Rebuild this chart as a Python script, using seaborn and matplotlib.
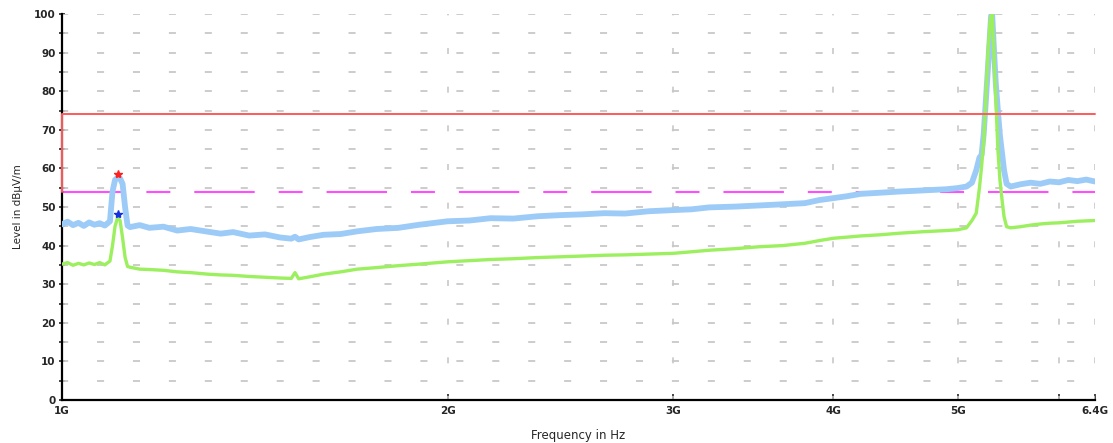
import pandas as pd
import numpy as np
import matplotlib
matplotlib.use('Agg')
import matplotlib.pyplot as plt
import seaborn as sns
from matplotlib.ticker import FixedLocator, FixedFormatter, MultipleLocator, NullLocator

# Frequencies (GHz) of the read-off points, shared by both traces
freq_ghz = [1.00, 1.01, 1.02, 1.03, 1.04, 1.05, 1.06, 1.07, 1.08, 1.09,
            1.095, 1.100, 1.105, 1.110, 1.115, 1.120, 1.125,
            1.13, 1.15, 1.17, 1.20, 1.23, 1.26, 1.30, 1.33, 1.36, 1.40,
            1.44, 1.48, 1.51, 1.52, 1.53, 1.56, 1.60, 1.65, 1.70, 1.76,
            1.83, 1.90, 2.00, 2.08, 2.16, 2.25, 2.35, 2.45, 2.55, 2.65,
            2.75, 2.87, 3.00, 3.10, 3.20, 3.35, 3.50, 3.65, 3.80, 3.90,
            4.00, 4.10, 4.20, 4.35, 4.50, 4.70, 4.90, 5.00, 5.08, 5.13,
            5.17, 5.20, 5.22, 5.24, 5.26, 5.28, 5.30, 5.31, 5.32, 5.335,
            5.355, 5.375, 5.395, 5.415, 5.435, 5.46, 5.50, 5.60, 5.70, 5.80,
            5.90, 6.00, 6.10, 6.20, 6.30, 6.40]

# Peak detector trace (light blue), dBuV/m
peak_level = [45.5, 46.2, 45.3, 45.9, 45.1, 46.0, 45.4, 45.8, 45.2, 46.3,
              54.0, 57.0, 57.6, 57.4, 56.0, 50.0, 45.2,
              44.8, 45.3, 44.6, 44.9, 43.9, 44.3, 43.6, 43.1, 43.5, 42.6,
              42.9, 42.1, 41.8, 42.3, 41.6, 42.2, 42.8, 43.0, 43.7, 44.3,
              44.6, 45.4, 46.3, 46.5, 47.1, 47.0, 47.6, 47.9, 48.1, 48.4,
              48.3, 48.9, 49.2, 49.4, 49.9, 50.1, 50.4, 50.7, 51.0, 51.8,
              52.3, 52.8, 53.4, 53.7, 54.0, 54.3, 54.6, 54.9, 55.3, 56.3,
              59.5, 62.8, 63.5, 69.0, 77.5, 86.0, 95.0, 99.5, 100.0, 92.0,
              82.0, 75.0, 68.5, 64.0, 59.5, 56.0, 55.3, 55.9, 56.3, 56.0,
              56.6, 56.4, 57.0, 56.7, 57.1, 56.6]

# Average detector trace (light green), dBuV/m
avg_level = [35.2, 35.6, 34.9, 35.4, 35.0, 35.5, 35.1, 35.6, 35.0, 36.0,
             40.0, 45.0, 47.2, 46.5, 42.0, 37.0, 34.6,
             34.4, 33.9, 33.8, 33.6, 33.2, 33.0, 32.6, 32.4, 32.3, 32.0,
             31.8, 31.6, 31.5, 33.0, 31.4, 31.9, 32.6, 33.2, 33.9, 34.3,
             34.8, 35.2, 35.8, 36.1, 36.4, 36.6, 36.9, 37.1, 37.3, 37.5,
             37.6, 37.8, 38.0, 38.4, 38.8, 39.2, 39.7, 40.0, 40.6, 41.3,
             41.9, 42.2, 42.5, 42.8, 43.2, 43.6, 43.9, 44.1, 44.6, 46.5,
             48.4, 55.0, 60.5, 67.0, 78.0, 90.0, 98.0, 99.5, 100.0, 91.0,
             78.0, 65.0, 57.0, 52.0, 47.5, 44.9, 44.6, 44.9, 45.3, 45.6,
             45.8, 45.9, 46.1, 46.3, 46.4, 46.5]

# Limit lines and final measurement markers
limit_qp = 74.0
limit_avg = 54.0
marker_freq_ghz = 1.105
marker_peak = 58.5
marker_avg = 48.2

tick_ghz = [1, 2, 3, 4, 5, 6, 6.4]
tick_labels = ['1G', '2G', '3G', '4G', '5G', '', '6.4G']

df = pd.DataFrame({'Frequency': np.array(freq_ghz) * 1e9,
                   'Peak': peak_level,
                   'Average': avg_level})

sns.set_style('white')
plt.rcParams['font.family'] = ['DejaVu Sans']

fig = plt.figure(figsize=(11.13, 4.43), dpi=100)
ax = fig.add_axes([62 / 1113, 1 - 400 / 443, (1095 - 62) / 1113, (400 - 14) / 443])
ax.set_xscale('log')

fmin, fmax = 1e9, 6.4e9

# grid: short dashes, horizontal every 5 dB, vertical at frequency ticks
for lev in range(5, 101, 5):
    ax.plot([fmin, fmax], [lev, lev], color='#c8c8c8', lw=1.3,
            linestyle=(0.5, (3.9, 16.0)), zorder=1)
for f in tick_ghz[1:]:
    ax.plot([f * 1e9, f * 1e9], [0, 100], color='#c8c8c8', lw=1.2,
            linestyle=(1.2, (3.6, 19.6)), zorder=1)

sns.lineplot(data=df, x='Frequency', y='Peak', ax=ax, color='#9dcbf7',
             lw=4.2, estimator=None, zorder=3)
sns.lineplot(data=df, x='Frequency', y='Average', ax=ax, color='#9cef5e',
             lw=2.4, estimator=None, zorder=4)

# limit lines
ax.plot([fmin, fmin, fmax], [limit_avg, limit_qp, limit_qp], color='#ff5a5a',
        lw=1.4, zorder=5, clip_on=False)
ax.plot([fmin, fmax], [limit_avg, limit_avg], color='#ff4dff', lw=1.5,
        linestyle=(0, (29, 11.5, 11.5, 11.5)), zorder=2)

# final result markers
ax.plot([marker_freq_ghz * 1e9], [marker_peak], marker='*', color='#ff2020',
        ms=6, zorder=6)
ax.plot([marker_freq_ghz * 1e9], [marker_avg], marker='*', color='#1530e0',
        ms=6, zorder=6)

ax.set_xlim(fmin, fmax)
ax.set_ylim(0, 100)

ax.xaxis.set_major_locator(FixedLocator([t * 1e9 for t in tick_ghz]))
ax.xaxis.set_major_formatter(FixedFormatter(tick_labels))
ax.xaxis.set_minor_locator(NullLocator())
ax.yaxis.set_major_locator(MultipleLocator(10))
ax.yaxis.set_minor_locator(MultipleLocator(5))

ax.tick_params(axis='y', which='major', direction='inout', length=5, width=1.2,
               labelsize=7.5, pad=2, left=True)
ax.tick_params(axis='y', which='minor', direction='inout', length=5, width=1.2,
               left=True)
ax.tick_params(axis='x', which='major', direction='in', length=4, width=1.2,
               labelsize=7.5, pad=4, bottom=True)
for lab in ax.get_xticklabels() + ax.get_yticklabels():
    lab.set_fontweight('bold')

for side in ['top', 'right']:
    ax.spines[side].set_visible(False)
for side in ['left', 'bottom']:
    ax.spines[side].set_color('black')
    ax.spines[side].set_linewidth(1.6)

ax.set_ylabel('Level in dBµV/m', fontsize=7.5, labelpad=8)
ax.set_xlabel('Frequency in Hz', fontsize=8.5, labelpad=10)

fig.savefig('out.png', dpi=100)
